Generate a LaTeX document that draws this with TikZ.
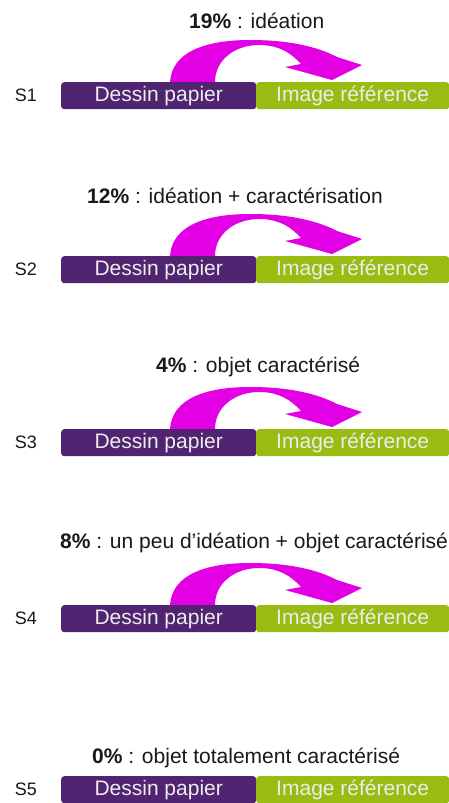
\documentclass[tikz,border=0pt]{standalone}
\usepackage{fontspec}
\setmainfont{Liberation Sans}
\definecolor{barpurple}{RGB}{80,36,112}
\definecolor{bargreen}{RGB}{153,187,18}
\definecolor{arrowmag}{RGB}{228,0,228}
\definecolor{titletext}{RGB}{25,25,25}
\begin{document}
\begin{tikzpicture}[x=1pt,y=-1pt,
  txt/.style={font=\fontsize{21}{24}\selectfont},
  pbar/.style={fill=barpurple, rounded corners=3pt, minimum width=195pt, minimum height=27pt, inner sep=0pt, text=white!93!black, txt, anchor=north west},
  gbar/.style={fill=bargreen, rounded corners=3pt, minimum width=193pt, minimum height=27pt, inner sep=0pt, text=white!93!black, txt, anchor=north west},
  slabel/.style={font=\fontsize{18}{22}\selectfont, text=titletext, anchor=center, inner sep=0pt},
  titlelabel/.style={txt, text=titletext, anchor=base west, inner sep=0pt},
  curvarrow/.pic={
    \fill[arrowmag] (170,0) .. controls (172,-30) and (205,-42) .. (250,-42)
      .. controls (290,-42) and (318,-35) .. (337,-25)
      -- (362,-17) -- (332,-2) -- (285,-15) -- (301,-18)
      .. controls (291,-29) and (280,-36) .. (262,-37)
      .. controls (235,-38) and (215,-22) .. (215,0) -- cycle;
  }]
\useasboundingbox (0,0) rectangle (449,803);
\fill[white] (0,0) rectangle (449,803);

% Row 1
\node[titlelabel] (t1) at (189,28) {\textbf{19\%} : idéation};
\pic at (0,82) {curvarrow};
\node[pbar] (p1) at (61,82) {Dessin papier};
\node[gbar] (g1) at (256,82) {Image référence};
\node[slabel] (s1) at (26,95.5) {S1};

% Row 2
\node[titlelabel] (t2) at (87,203) {\textbf{12\%} : idéation + caractérisation};
\pic at (0,256) {curvarrow};
\node[pbar] (p2) at (61,256) {Dessin papier};
\node[gbar] (g2) at (256,256) {Image référence};
\node[slabel] (s2) at (26,269.5) {S2};

% Row 3
\node[titlelabel] (t3) at (156,372) {\textbf{4\%} : objet caractérisé};
\pic at (0,429) {curvarrow};
\node[pbar] (p3) at (61,429) {Dessin papier};
\node[gbar] (g3) at (256,429) {Image référence};
\node[slabel] (s3) at (26,442.5) {S3};

% Row 4
\node[titlelabel] (t4) at (60,548) {\textbf{8\%} : un peu d’idéation + objet caractérisé};
\pic at (0,605) {curvarrow};
\node[pbar] (p4) at (61,605) {Dessin papier};
\node[gbar] (g4) at (256,605) {Image référence};
\node[slabel] (s4) at (26,618.5) {S4};

% Row 5
\node[titlelabel] (t5) at (92,763) {\textbf{0\%} : objet totalement caractérisé};
\node[pbar] (p5) at (61,776) {Dessin papier};
\node[gbar] (g5) at (256,776) {Image référence};
\node[slabel] (s5) at (26,789.5) {S5};
\end{tikzpicture}
\end{document}
